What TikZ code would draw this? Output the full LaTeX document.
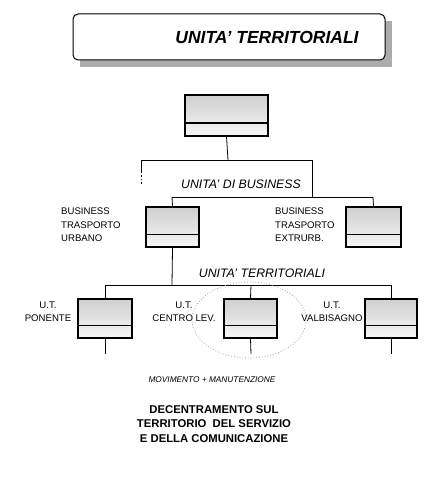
\documentclass[tikz,border=0pt]{standalone}
\usepackage{fontspec}
\setmainfont{Liberation Sans}
\usetikzlibrary{calc}
\begin{document}
\begin{tikzpicture}[x=1pt,y=-1pt,
  unitbox/.style={draw=black,line width=1.4pt,left color=gray!38,right color=gray!6,shading angle=0,inner sep=0pt},
  conn/.style={draw=black,line width=0.8pt},
  lbl/.style={font=\fontsize{9.6}{13.5}\selectfont,align=left,inner sep=0pt},
  ctr/.style={font=\fontsize{9.6}{13}\selectfont,align=center,inner sep=0pt},
  head/.style={font=\fontsize{12.3}{14}\selectfont\itshape,inner sep=0pt}]
\useasboundingbox (0,0) rectangle (428,478);
% title box with shadow
\fill[gray!65] (80,21) rectangle (392,67);
\node[draw=black,line width=1pt,rounded corners=5pt,fill=white,minimum width=312pt,minimum height=46pt,inner sep=0pt] (title) at (229,37) {};
\node[font=\fontsize{17.5}{19}\selectfont\bfseries\itshape,inner sep=0pt] (ttext) at (267,37) {UNITA' TERRITORIALI};
% boxes
\newcommand{\ubox}[5]{% name, x1, y1, x2, y2
  \node[unitbox,minimum width={#4-#2},minimum height={#5-#3}] (#1) at ({(#2+#4)/2},{(#3+#5)/2}) {};
  \draw[line width=1.4pt] ($(#1.south west)!0.32!(#1.north west)$) -- ($(#1.south east)!0.32!(#1.north east)$);
}
\ubox{top}{185}{95}{268}{136}
\ubox{bu}{146}{207}{199}{247}
\ubox{be}{346}{207}{401}{247}
\ubox{up}{78}{299}{132}{338}
\ubox{uc}{224}{299}{277}{338}
\ubox{uv}{365}{299}{417}{338}
% junction coordinates
\coordinate (j1) at (228,160);
\coordinate (j1l) at (141,160);
\coordinate (j1r) at (312,160);
\coordinate (j1ld) at (141,172);
\coordinate (j1ldd) at (141,184);
\coordinate (j2r) at (312,197);
\coordinate (j2a) at (172,197);
\coordinate (j2b) at (373,197);
\coordinate (j3) at (172,285);
\coordinate (j3a) at (105,285);
\coordinate (j3b) at (251,285);
\coordinate (j3c) at (391,285);
\coordinate (e1) at (105,354);
\coordinate (e2) at (251,354);
\coordinate (e3) at (391,354);
% connectors
\draw[conn] (top.south) -- (j1);
\draw[conn] (j1l) -- (j1r) -- (j2r);
\draw[conn] (j1l) -- (j1ld);
\draw[conn,dash pattern=on 1.5pt off 2pt] (j1ld) -- (j1ldd);
\draw[conn] (j2a) -- (j2b);
\draw[conn] (j2a) -- (bu.north);
\draw[conn] (j2b) -- (be.north);
\draw[conn] (bu.south) -- (j3);
\draw[conn] (j3a) -- (j3c);
\draw[conn] (j3a) -- (up.north);
\draw[conn] (j3b) -- (uc.north);
\draw[conn] (j3c) -- (uv.north);
\draw[conn] (up.south) -- (e1);
\draw[conn] (uc.south) -- (e2);
\draw[conn] (uv.south) -- (e3);
% ellipse
\draw[gray!70,line width=0.8pt,dash pattern=on 0.8pt off 2pt] (249,320) ellipse [x radius=57,y radius=38];
% labels
\node[head] (hb) at (241,184) {UNITA' DI BUSINESS};
\node[head] (ht) at (262,273) {UNITA' TERRITORIALI};
\node[lbl,anchor=north west] (lbu) at (61,208) {BUSINESS\\TRASPORTO\\URBANO};
\node[lbl,anchor=north west] (lbe) at (275,208) {BUSINESS\\TRASPORTO\\EXTRURB.};
\node[ctr] (lup) at (48,312) {U.T.\\PONENTE};
\node[ctr] (luc) at (184,312) {U.T.\\CENTRO LEV.};
\node[ctr] (luv) at (332,312) {U.T.\\VALBISAGNO};
\node[font=\fontsize{8.3}{10}\selectfont\itshape,inner sep=0pt] (mm) at (212,380) {MOVIMENTO + MANUTENZIONE};
\node[font=\fontsize{11.3}{14.5}\selectfont\bfseries,align=center,inner sep=0pt] (dec) at (214,424) {DECENTRAMENTO SUL\\TERRITORIO\ \ DEL SERVIZIO\\E DELLA COMUNICAZIONE};
\end{tikzpicture}
\end{document}
